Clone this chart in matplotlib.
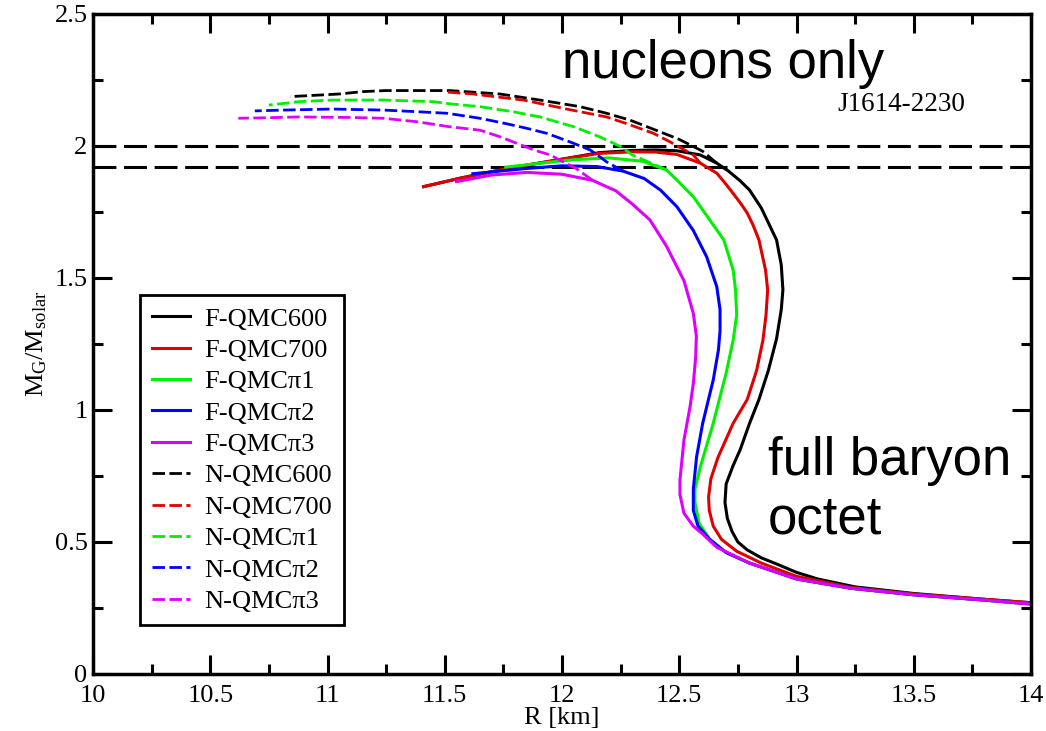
import numpy as np
import matplotlib.pyplot as plt
from matplotlib.ticker import MultipleLocator, FormatStrFormatter

# mass-radius curves, full baryon octet (solid)
r_f600 = [14.0, 13.8, 13.5, 13.25, 13.09, 13.0, 12.92, 12.85, 12.79, 12.75, 12.725, 12.705, 12.695,
          12.7, 12.73, 12.76, 12.8, 12.84, 12.88, 12.915, 12.935, 12.942, 12.935, 12.915, 12.885,
          12.85, 12.8, 12.76, 12.71, 12.66, 12.59, 12.49, 12.4, 12.3, 12.16, 12.0, 11.78, 11.565, 11.41]
m_f600 = [0.27, 0.283, 0.305, 0.33, 0.36, 0.385, 0.415, 0.44, 0.47, 0.5, 0.54, 0.59, 0.65,
          0.72, 0.79, 0.85, 0.95, 1.04, 1.15, 1.27, 1.38, 1.455, 1.55, 1.644, 1.7,
          1.765, 1.833, 1.868, 1.905, 1.935, 1.966, 1.982, 1.985, 1.983, 1.975, 1.95, 1.917, 1.878, 1.846]

r_f700 = [14.0, 13.8, 13.5, 13.23, 13.0, 12.85, 12.745, 12.68, 12.645, 12.628, 12.625, 12.635, 12.665,
          12.73, 12.79, 12.83, 12.857, 12.87, 12.877, 12.868, 12.84, 12.815, 12.79, 12.76, 12.73,
          12.695, 12.66, 12.59, 12.49, 12.4, 12.3, 12.16, 12.0, 11.78, 11.565, 11.41]
m_f700 = [0.27, 0.283, 0.303, 0.328, 0.37, 0.42, 0.465, 0.51, 0.56, 0.62, 0.67, 0.74, 0.82,
          0.95, 1.04, 1.15, 1.265, 1.36, 1.455, 1.53, 1.644, 1.7, 1.746, 1.785, 1.82,
          1.86, 1.897, 1.935, 1.968, 1.977, 1.978, 1.972, 1.95, 1.917, 1.878, 1.846]

r_fpi1 = [14.0, 13.8, 13.5, 13.23, 13.0, 12.8, 12.7, 12.63, 12.585, 12.567, 12.567, 12.59, 12.645,
          12.7, 12.73, 12.745, 12.74, 12.73, 12.69, 12.63, 12.56, 12.49, 12.446, 12.345, 12.2,
          12.05, 11.9, 11.76]
m_fpi1 = [0.265, 0.28, 0.3, 0.325, 0.36, 0.42, 0.46, 0.51, 0.57, 0.65, 0.7, 0.785, 0.95,
          1.14, 1.265, 1.36, 1.455, 1.53, 1.644, 1.72, 1.808, 1.871, 1.909, 1.942, 1.955,
          1.948, 1.934, 1.92]

r_fpi2 = [14.0, 13.8, 13.5, 13.23, 13.0, 12.8, 12.7, 12.63, 12.58, 12.56, 12.56, 12.574, 12.6,
          12.645, 12.667, 12.674, 12.674, 12.66, 12.617, 12.56, 12.49, 12.42, 12.35, 12.26, 12.15,
          12.0, 11.85, 11.62]
m_fpi2 = [0.265, 0.28, 0.3, 0.325, 0.36, 0.42, 0.46, 0.51, 0.56, 0.62, 0.7, 0.823, 0.95,
          1.114, 1.227, 1.3, 1.38, 1.467, 1.58, 1.68, 1.77, 1.833, 1.877, 1.905, 1.922,
          1.925, 1.915, 1.895]

r_fpi3 = [14.0, 13.8, 13.5, 13.23, 13.0, 12.8, 12.66, 12.6, 12.56, 12.52, 12.503, 12.503, 12.52,
          12.546, 12.56, 12.57, 12.573, 12.56, 12.52, 12.446, 12.375, 12.3, 12.23, 12.13, 12.0,
          11.85, 11.7, 11.55]
m_fpi3 = [0.265, 0.28, 0.3, 0.325, 0.36, 0.42, 0.48, 0.53, 0.56, 0.609, 0.68, 0.735, 0.886,
          1.012, 1.1, 1.2, 1.28, 1.366, 1.49, 1.62, 1.72, 1.78, 1.83, 1.87, 1.893,
          1.9, 1.89, 1.865]

# nucleons only (dashed), branching off the hyperon curves
r_n600 = [12.66, 12.6, 12.5, 12.4, 12.29, 12.19, 12.077, 11.906, 11.735, 11.52, 11.25, 11.15, 11.05, 10.84]
m_n600 = [1.935, 1.98, 2.025, 2.06, 2.098, 2.124, 2.149, 2.174, 2.197, 2.21, 2.21, 2.206, 2.197, 2.187]

r_n700 = [12.59, 12.56, 12.46, 12.39, 12.275, 12.19, 12.02, 11.835, 11.62, 11.5]
m_n700 = [1.935, 1.966, 2.016, 2.048, 2.085, 2.11, 2.14, 2.174, 2.197, 2.205]

r_npi1 = [12.446, 12.38, 12.3, 12.25, 12.16, 12.05, 11.906, 11.79, 11.65, 11.52, 11.45, 11.24,
          11.02, 10.88, 10.75]
m_npi1 = [1.909, 1.935, 1.966, 1.998, 2.035, 2.073, 2.11, 2.13, 2.149, 2.16, 2.168, 2.174,
          2.174, 2.168, 2.155]

r_npi2 = [12.26, 12.19, 12.16, 12.12, 12.05, 11.99, 11.935, 11.85, 11.76, 11.65, 11.51, 11.38,
          11.24, 11.02, 10.81, 10.69]
m_npi2 = [1.905, 1.94, 1.96, 1.985, 2.01, 2.03, 2.048, 2.067, 2.085, 2.105, 2.124, 2.13,
          2.136, 2.14, 2.136, 2.133]

r_npi3 = [12.13, 12.06, 12.005, 11.95, 11.88, 11.79, 11.735, 11.65, 11.52, 11.38, 11.24, 11.1,
          10.88, 10.74, 10.62]
m_npi3 = [1.87, 1.915, 1.94, 1.966, 1.985, 2.016, 2.035, 2.06, 2.073, 2.092, 2.105, 2.108,
          2.11, 2.107, 2.105]

# J1614-2230 mass band
psr_band = [2.0, 1.92]

labels_f = ['F-QMC600', 'F-QMC700', 'F-QMC\u03c01', 'F-QMC\u03c02', 'F-QMC\u03c03']
labels_n = ['N-QMC600', 'N-QMC700', 'N-QMC\u03c01', 'N-QMC\u03c02', 'N-QMC\u03c03']
colors = ['black', '#e00000', '#00f000', '#0000ff', '#dd00ff']

plt.rcParams['font.family'] = ['Liberation Serif', 'DejaVu Serif']
plt.rcParams['mathtext.default'] = 'regular'

fig = plt.figure(figsize=(10.46, 7.31), dpi=100)
ax = fig.add_axes([93 / 1046, 57 / 731, 938 / 1046, 660 / 731])

for y in psr_band:
    ax.axhline(y, color='black', lw=2.2, dashes=(7.5, 2.5))

solid = [(r_f600, m_f600), (r_f700, m_f700), (r_fpi1, m_fpi1), (r_fpi2, m_fpi2), (r_fpi3, m_fpi3)]
dashed = [(r_n600, m_n600), (r_n700, m_n700), (r_npi1, m_npi1), (r_npi2, m_npi2), (r_npi3, m_npi3)]

handles = []
for (r, m), c, lab in zip(solid, colors, labels_f):
    h, = ax.plot(r, m, color=c, lw=2.2, label=lab, solid_joinstyle='round')
    handles.append(h)
for (r, m), c, lab in zip(dashed, colors, labels_n):
    h, = ax.plot(r, m, color=c, lw=2.0, dashes=(4.5, 1.6), label=lab)
    handles.append(h)

ax.set_xlim(10, 14)
ax.set_ylim(0, 2.5)
ax.xaxis.set_major_locator(MultipleLocator(0.5))
ax.xaxis.set_minor_locator(MultipleLocator(0.25))
ax.yaxis.set_major_locator(MultipleLocator(0.5))
ax.yaxis.set_minor_locator(MultipleLocator(0.25))
ax.xaxis.set_major_formatter(FormatStrFormatter('%g'))
ax.yaxis.set_major_formatter(FormatStrFormatter('%g'))
ax.tick_params(which='both', direction='in', top=True, right=True, width=2.2, labelsize=19)
ax.tick_params(which='major', length=14)
ax.tick_params(which='minor', length=7.5)
ax.tick_params(axis='x', pad=8)
ax.tick_params(axis='y', pad=4)
for s in ax.spines.values():
    s.set_linewidth(2.5)

ax.set_xlabel('R [km]', fontsize=19, labelpad=0)
ax.set_ylabel('M$_G$/M$_{solar}$', fontsize=19, labelpad=4)

leg = ax.legend(handles=handles, loc='upper left', bbox_to_anchor=(0.05, 0.574),
                borderaxespad=0, fontsize=19, handlelength=1.45, handletextpad=0.55,
                labelspacing=0.3, borderpad=0.45, fancybox=False, framealpha=1,
                edgecolor='black')
leg.get_frame().set_linewidth(2.0)

ax.text(12.0, 2.258, 'nucleons only', family='Liberation Sans', fontsize=38, ha='left', va='baseline')
ax.text(12.878, 0.534, 'full baryon\noctet', family='Liberation Sans', fontsize=38,
        ha='left', va='baseline', linespacing=1.2)
ax.text(13.173, 2.133, 'J1614-2230', fontsize=19.5, ha='left', va='baseline')

fig.savefig('out.png', dpi=100)
